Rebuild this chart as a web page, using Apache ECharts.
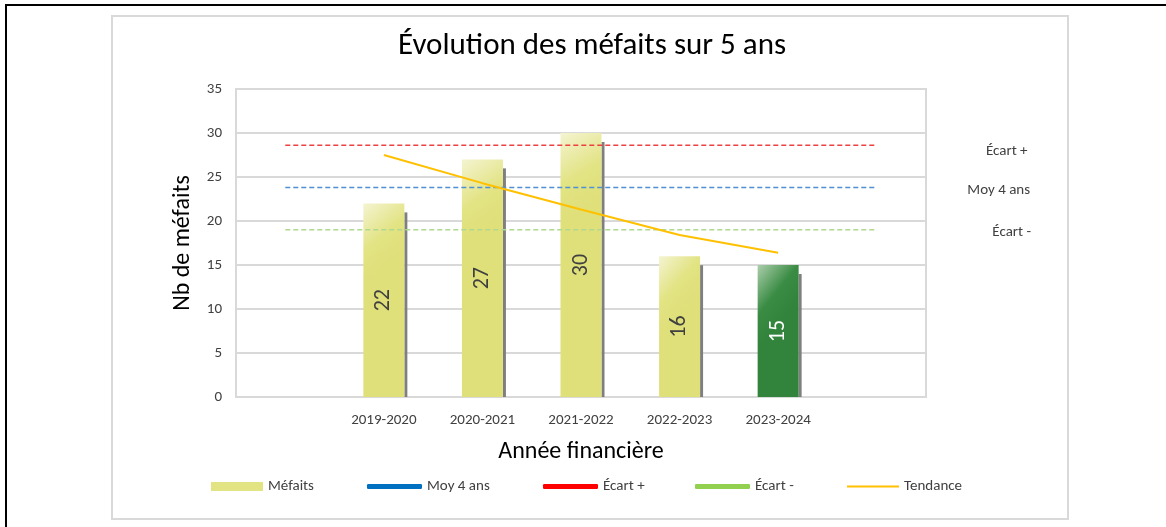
<!DOCTYPE html>
<html>
<head>
    <meta charset="utf-8">
    <title>Évolution des méfaits</title>
    <script type="text/javascript" src="https://cdn.jsdelivr.net/npm/echarts@6/dist/echarts.min.js"></script>
    <style type="text/css">
        body{ margin:0; background:#fff; }
        #outer{
            position:absolute;
            left:5px; top:4px;
            width:1300px; height:700px;
            border:2px solid #000;
        }
        #frame{
            position:absolute;
            left:111px; top:15px;
            width:954px; height:501px;
            border:2px solid #d9d9d9;
        }
        #main{
            position:absolute;
            left:0; top:0;
            width:1166px; height:527px;
        }
    </style>
</head>
<body>
    <div id="outer"></div>
    <div id="frame"></div>
    <div id="main"></div>
    <script type="text/javascript">
        // données
        var annees = ['', '2019-2020', '2020-2021', '2021-2022', '2022-2023', '2023-2024', ''];
        var mefaits = [null, 22, 27, 30, 16, 15, null];
        var moy4ans = [23.8, 23.8, 23.8, 23.8, 23.8, 23.8, 23.8];
        var ecartPlus = [28.6, 28.6, 28.6, 28.6, 28.6, 28.6, 28.6];
        var ecartMoins = [19.0, 19.0, 19.0, 19.0, 19.0, 19.0, 19.0];
        var tendance = [null, 27.5, 24.3, 21.3, 18.4, 16.4, null];
        var anneeCourante = 5;

        var police = 'Carlito, Lato, sans-serif';

        var jaune = new echarts.graphic.LinearGradient(0, 0, 1, 0.25, [
            {offset: 0, color: '#f4f4d2'},
            {offset: 0.6, color: '#e2e382'},
            {offset: 1, color: '#dfe07a'}
        ]);
        var vert = new echarts.graphic.LinearGradient(0, 0, 1, 0.25, [
            {offset: 0, color: '#acceac'},
            {offset: 0.6, color: '#3a8c44'},
            {offset: 1, color: '#32843c'}
        ]);

        var barData = [];
        mefaits.forEach(function (v, i) {
            if (v !== null) barData.push([i, v]);
        });

        function dessinBarre(params, api) {
            var i = api.value(0);
            var v = api.value(1);
            var haut = api.coord([i, v]);
            var bas = api.coord([i, 0]);
            var w = 41;
            var x = haut[0] - w / 2;
            var courant = i === anneeCourante;
            return {
                type: 'group',
                children: [
                    {
                        type: 'rect',
                        shape: {x: x + w, y: haut[1] + 9, width: 3, height: bas[1] - haut[1] - 9},
                        style: {fill: '#7f7f7f'}
                    },
                    {
                        type: 'rect',
                        shape: {x: x, y: haut[1], width: w, height: bas[1] - haut[1]},
                        style: {fill: courant ? vert : jaune}
                    },
                    {
                        type: 'text',
                        x: haut[0],
                        y: (haut[1] + bas[1]) / 2,
                        rotation: Math.PI / 2,
                        style: {
                            text: String(v),
                            fill: courant ? '#ffffff' : '#404040',
                            font: '22px ' + police,
                            align: 'center',
                            verticalAlign: 'middle'
                        }
                    }
                ]
            };
        }

        function ligneRef(nom, data, couleur, dx, dy) {
            return {
                name: nom,
                type: 'line',
                data: data,
                symbol: 'none',
                silent: true,
                lineStyle: {color: couleur, width: 1.4, type: [5, 3]},
                endLabel: {
                    show: true,
                    formatter: '{a}',
                    distance: 0,
                    align: 'center',
                    offset: [dx, dy],
                    color: '#404040',
                    fontSize: 15,
                    fontFamily: police
                }
            };
        }

        function legende(nom, left, icon, w, h, couleur) {
            return {
                data: [{name: nom, icon: icon, itemStyle: {color: couleur, borderWidth: 0}}],
                left: left,
                top: 479,
                padding: 0,
                itemWidth: w,
                itemHeight: h,
                itemGap: 5,
                selectedMode: false,
                textStyle: {color: '#404040', fontSize: 15, fontFamily: police}
            };
        }

        var myChart = echarts.init(document.getElementById('main'));

        var option = {
            animation: false,
            textStyle: {fontFamily: police},
            title: {
                text: 'Évolution des méfaits sur 5 ans',
                left: 393,
                top: 26,
                textStyle: {color: '#000', fontSize: 31, fontWeight: 'normal', fontFamily: police}
            },
            legend: [
                legende('Méfaits', 211, 'rect', 52, 9, '#e2e382'),
                legende('Moy 4 ans', 367, 'roundRect', 55, 5, '#0070c0'),
                legende('Écart +', 543, 'roundRect', 55, 5, '#ff0000'),
                legende('Écart -', 695, 'roundRect', 55, 5, '#92d050'),
                legende('Tendance', 847, 'rect', 52, 2, '#ffc000')
            ],
            grid: {
                left: 236,
                top: 89,
                right: 240,
                bottom: 130,
                show: true,
                borderColor: '#d9d9d9',
                borderWidth: 2,
                outerBoundsMode: 'none'
            },
            xAxis: {
                type: 'category',
                data: annees,
                name: 'Année financière',
                nameLocation: 'middle',
                nameGap: 43,
                nameTextStyle: {color: '#000', fontSize: 24, fontFamily: police},
                axisTick: {show: false},
                axisLine: {lineStyle: {color: '#d9d9d9', width: 2}},
                axisLabel: {color: '#404040', fontSize: 15, margin: 16, interval: 0}
            },
            yAxis: {
                type: 'value',
                min: 0,
                max: 35,
                interval: 5,
                name: 'Nb de méfaits',
                nameLocation: 'middle',
                nameGap: 41,
                nameRotate: 90,
                nameTextStyle: {color: '#000', fontSize: 24, fontFamily: police},
                axisLine: {show: true, lineStyle: {color: '#d9d9d9', width: 2}},
                axisTick: {show: false},
                axisLabel: {color: '#404040', fontSize: 15, margin: 14},
                splitLine: {lineStyle: {color: '#d9d9d9', width: 2}}
            },
            series: [
                {
                    name: 'Méfaits',
                    type: 'custom',
                    renderItem: dessinBarre,
                    data: barData,
                    z: 1,
                    itemStyle: {color: '#e2e382'}
                },
                ligneRef('Écart +', ecartPlus, '#ee4040', 130, 6),
                ligneRef('Moy 4 ans', moy4ans, '#4f8fd4', 122, 3),
                ligneRef('Écart -', ecartMoins, '#b0d890', 135, 2),
                {
                    name: 'Tendance',
                    type: 'line',
                    data: tendance,
                    symbol: 'none',
                    silent: true,
                    z: 3,
                    lineStyle: {color: '#ffc000', width: 2}
                }
            ]
        };

        myChart.setOption(option);
    </script>
</body>
</html>
